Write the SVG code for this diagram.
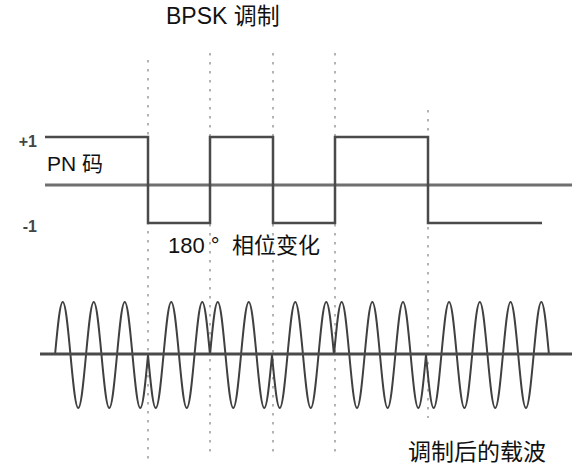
<svg xmlns="http://www.w3.org/2000/svg" width="572" height="468" viewBox="0 0 572 468">
  <style>
    .txt { font-family: "Liberation Sans", "Noto Sans CJK SC", sans-serif; fill: #111; }
    .lvl { font-family: "Liberation Sans", sans-serif; font-weight: bold; font-size: 16px; fill: #444; }
    .guide { stroke: #9a9a9a; stroke-width: 1.5; stroke-dasharray: 2.5 6.5; fill: none; }
    .axis { stroke: #6f6f6f; stroke-width: 3; fill: none; }
    .axis2 { stroke: #4a4a4a; stroke-width: 3; fill: none; }
    .pn { stroke: #4a4a4a; stroke-width: 2.5; fill: none; stroke-linejoin: miter; }
    .wave { stroke: #404040; stroke-width: 2; fill: none; }
  </style>
  <defs>
    <path id="w2" d="M0,0 c2.59,-27.83 4.96,-53 7.75,-53 s5.16,25.17 7.75,53 s4.96,53 7.75,53 s5.16,-25.17 7.75,-53 s4.96,-53 7.75,-53 s5.16,25.17 7.75,53 s4.96,53 7.75,53 s5.16,-25.17 7.75,-53"/>
    <path id="w3" d="M0,0 c2.59,-27.83 4.96,-53 7.75,-53 s5.16,25.17 7.75,53 s4.96,53 7.75,53 s5.16,-25.17 7.75,-53 s4.96,-53 7.75,-53 s5.16,25.17 7.75,53 s4.96,53 7.75,53 s5.16,-25.17 7.75,-53 s4.96,-53 7.75,-53 s5.16,25.17 7.75,53 s4.96,53 7.75,53 s5.16,-25.17 7.75,-53"/>
    <path id="w4" d="M0,0 c2.59,-27.83 4.96,-53 7.75,-53 s5.16,25.17 7.75,53 s4.96,53 7.75,53 s5.16,-25.17 7.75,-53 s4.96,-53 7.75,-53 s5.16,25.17 7.75,53 s4.96,53 7.75,53 s5.16,-25.17 7.75,-53 s4.96,-53 7.75,-53 s5.16,25.17 7.75,53 s4.96,53 7.75,53 s5.16,-25.17 7.75,-53 s4.96,-53 7.75,-53 s5.16,25.17 7.75,53 s4.96,53 7.75,53 s5.16,-25.17 7.75,-53"/>
  </defs>
  <rect width="572" height="468" fill="#ffffff"/>

  <g id="guides">
    <line class="guide" x1="148" y1="60" x2="148" y2="462"/>
    <line class="guide" x1="210" y1="53" x2="210" y2="454"/>
    <line class="guide" x1="273" y1="53" x2="273" y2="454"/>
    <line class="guide" x1="335" y1="53" x2="335" y2="454"/>
    <line class="guide" x1="428" y1="110" x2="428" y2="418"/>
  </g>

  <g id="title">
    <text class="txt" x="166" y="24" font-size="23">BPSK 调制</text>
  </g>

  <g id="pn-code">
    <line class="axis" x1="45" y1="185" x2="572" y2="185"/>
    <path class="pn" d="M45,137 H148 V223 H210 V137 H273 V223 H335 V137 H428 V223 H542"/>
    <text class="lvl" x="37" y="147" text-anchor="end">+1</text>
    <text class="lvl" x="37" y="232" text-anchor="end">-1</text>
    <text class="txt" x="47" y="171" font-size="21">PN 码</text>
    <text class="txt" x="168" y="253" font-size="22">180 °<tspan x="232">相位变化</tspan></text>
  </g>

  <g id="carrier">
    <use href="#w3" class="wave" transform="translate(55,355)"/>
    <use href="#w2" class="wave" transform="translate(148,355) scale(1,-1)"/>
    <use href="#w2" class="wave" transform="translate(210,355)"/>
    <use href="#w2" class="wave" transform="translate(272,355) scale(1,-1)"/>
    <use href="#w3" class="wave" transform="translate(334,355) scale(0.989,1)"/>
    <use href="#w4" class="wave" transform="translate(426,355) scale(0.992,-1)"/>
    <line class="axis2" x1="40" y1="354" x2="572" y2="354"/>
    <text class="txt" x="408" y="460" font-size="23">调制后的载波</text>
  </g>
</svg>
